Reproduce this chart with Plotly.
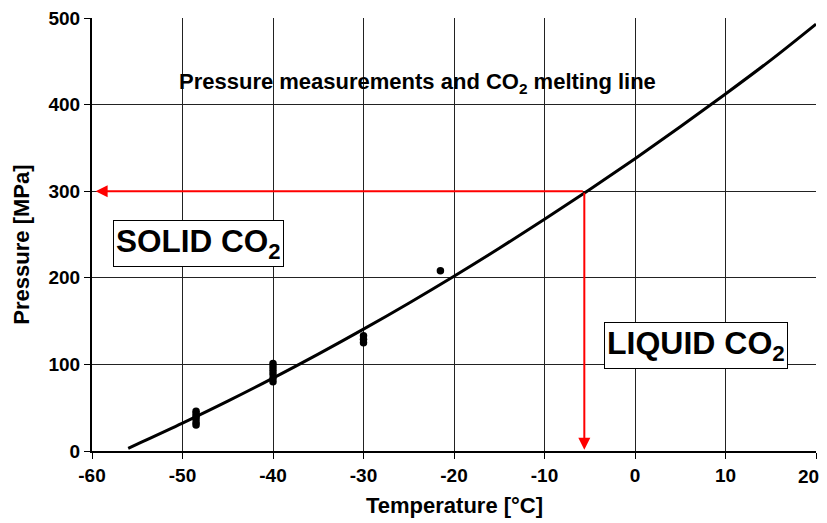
import plotly.graph_objects as go

# Melting line
line_T = [-56.0, -55, -50, -45, -40, -35, -30, -25, -20, -15, -10, -5, 0, 5, 10, 15, 20]
line_P = [3.1, 7.9, 32.2, 57.6, 84.2, 111.9, 140.7, 170.7, 201.8, 234.1, 267.5, 302.0, 337.6, 374.4, 412.3, 451.4, 493.0]

# Pressure measurements
meas_T = [-48.5] * 6 + [-40] * 6 + [-30] * 3 + [-21.5]
meas_P = [46, 43, 40, 37, 33, 30, 101, 97, 93, 89, 84, 80, 133, 129, 125, 208]

# Red guide point
guide_T = -5.6
guide_P = 300

x_ticks = [-60, -50, -40, -30, -20, -10, 0, 10, 20]
x_labels = ["-60", "-50", "-40", "-30", "-20", "-10", "0", "10", "20"]
y_ticks = [0, 100, 200, 300, 400, 500]
y_labels = ["0", "100", "200", "300", "400", "500"]

FONT = "Liberation Sans"

fig = go.Figure()
fig.add_trace(go.Scatter(x=line_T, y=line_P, mode="lines",
                         line=dict(color="black", width=3), line_shape="spline",
                         showlegend=False, hoverinfo="skip"))
fig.add_trace(go.Scatter(x=meas_T, y=meas_P, mode="markers",
                         marker=dict(color="black", size=7.5),
                         showlegend=False))

# red arrows
fig.add_annotation(x=-59.6, y=guide_P, ax=guide_T, ay=guide_P,
                   xref="x", yref="y", axref="x", ayref="y",
                   showarrow=True, arrowhead=2, arrowsize=1.2, arrowwidth=2,
                   arrowcolor="red", text="")
fig.add_annotation(x=guide_T, y=1.5, ax=guide_T, ay=guide_P,
                   xref="x", yref="y", axref="x", ayref="y",
                   showarrow=True, arrowhead=2, arrowsize=1.2, arrowwidth=2,
                   arrowcolor="red", text="")

fig.add_annotation(x=-24, y=425, xref="x", yref="y", showarrow=False,
                   text="<b>Pressure measurements and CO<sub>2</sub> melting line</b>",
                   font=dict(family=FONT, size=22, color="black"))
fig.add_annotation(x=-48.2, y=240, xref="x", yref="y", showarrow=False,
                   text="<b>SOLID CO<sub>2</sub></b>",
                   font=dict(family=FONT, size=31.5, color="black"),
                   bgcolor="white", bordercolor="black", borderwidth=1, borderpad=2)
fig.add_annotation(x=6.7, y=122, xref="x", yref="y", showarrow=False,
                   text="<b>LIQUID CO<sub>2</sub></b>",
                   font=dict(family=FONT, size=32, color="black"),
                   bgcolor="white", bordercolor="black", borderwidth=1, borderpad=2)

# axis titles
fig.add_annotation(x=0.501, y=-0.125, xref="paper", yref="paper", showarrow=False,
                   text="<b>Temperature [°C]</b>", xanchor="center", yanchor="middle",
                   font=dict(family=FONT, size=22, color="black"))
fig.add_annotation(x=-0.097, y=0.476, xref="paper", yref="paper", showarrow=False,
                   text="<b>Pressure [MPa]</b>", textangle=-90, xanchor="center", yanchor="middle",
                   font=dict(family=FONT, size=22, color="black"))

# last x tick label is nudged left so it stays inside the page (as in the reference)
shown_x_labels = x_labels[:-1] + [""]
fig.add_annotation(x=0.989, y=-0.059, xref="paper", yref="paper", showarrow=False,
                   text=x_labels[-1], xanchor="center", yanchor="middle",
                   font=dict(family=FONT, size=19, color="black", weight="bold"))

axis_common = dict(ticks="outside", ticklen=6, tickcolor="black", tickwidth=1,
                   showline=True, linecolor="black", linewidth=2,
                   showgrid=True, gridcolor="#222", gridwidth=1, zeroline=False,
                   automargin=False, ticklabeloverflow="allow",
                   tickfont=dict(family=FONT, size=19, color="black", weight="bold"))

# page body has an 8px margin, so the figure is sized/offset to compensate
fig.update_layout(
    width=819, height=515,
    margin=dict(l=84, r=11, t=10, b=72),
    paper_bgcolor="white", plot_bgcolor="white",
    font=dict(family=FONT, color="black"),
    xaxis=dict(range=[-60, 20], tickvals=x_ticks, ticktext=shown_x_labels, **axis_common),
    yaxis=dict(range=[0, 500], tickvals=y_ticks, ticktext=y_labels, **axis_common),
)

fig.write_html("out.html")
